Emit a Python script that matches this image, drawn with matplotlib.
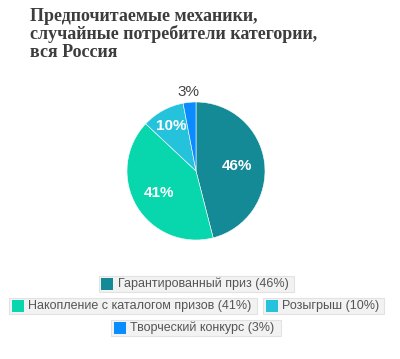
import matplotlib
matplotlib.use("Agg")
import matplotlib.pyplot as plt
from matplotlib.patches import Rectangle
import numpy as np

title = "Предпочитаемые механики,\nслучайные потребители категории,\nвся Россия"
categories = ["Гарантированный приз", "Накопление с каталогом призов", "Розыгрыш", "Творческий конкурс"]
values = [46, 41, 10, 3]
colors = ["#148a96", "#08d6ad", "#25c2dc", "#0a8cff"]

W, H = 400, 359
fig = plt.figure(figsize=(W / 100, H / 100), dpi=100)
fig.patch.set_facecolor("white")

fig.text(30 / W, 1 - 8 / H, title, ha="left", va="top", fontsize=13,
         fontweight="bold", family="Liberation Serif", color="#3d3d3d",
         linespacing=1.02)

cx, cy, r = 196, 171, 69
ax = fig.add_axes([(cx - r) / W, (H - cy - r) / H, 2 * r / W, 2 * r / H])
wedges, _ = ax.pie(values, colors=colors, startangle=90, counterclock=False,
                   radius=1, wedgeprops=dict(linewidth=0.4, edgecolor="white"))
ax.set_xlim(-1, 1)
ax.set_ylim(-1, 1)
ax.set_aspect("equal")
ax.axis("off")

label_r = [0.6, 0.63, 0.75, 1.15]
start = 90
for i, v in enumerate(values):
    span = v / sum(values) * 360
    mid = np.deg2rad(start - span / 2)
    start -= span
    x, y = label_r[i] * np.cos(mid), label_r[i] * np.sin(mid)
    col = "white" if i < 3 else "#444444"
    ax.text(x, y, f"{v}%", ha="center", va="center", fontsize=11,
            fontweight="bold" if i < 3 else "normal",
            family="Liberation Sans", color=col, clip_on=False)

# legend, drawn as boxed items
rows = [[0], [1, 2], [3]]
row_y = [284, 306, 328]
fs = 9
gap = 6
widths = {0: 195, 1: 248, 2: 121, 3: 170}
for ri, row in enumerate(rows):
    total = sum(widths[i] for i in row) + gap * (len(row) - 1)
    x0 = 196 - total / 2
    for i in row:
        w = widths[i]
        yc = row_y[ri]
        fig.patches.append(Rectangle((x0 / W, (H - yc - 8) / H), w / W, 16 / H,
                                     transform=fig.transFigure, facecolor="#f2f2f2",
                                     edgecolor="#e2e2e2", linewidth=0.8))
        fig.patches.append(Rectangle(((x0 + 3) / W, (H - yc - 6) / H), 12 / W, 12 / H,
                                     transform=fig.transFigure, facecolor=colors[i],
                                     edgecolor="none"))
        fig.text((x0 + 19) / W, (H - yc) / H, f"{categories[i]} ({values[i]}%)",
                 ha="left", va="center", fontsize=fs, family="Liberation Sans",
                 color="#555555")
        x0 += w + gap

fig.savefig("out.png", dpi=100, facecolor="white")
